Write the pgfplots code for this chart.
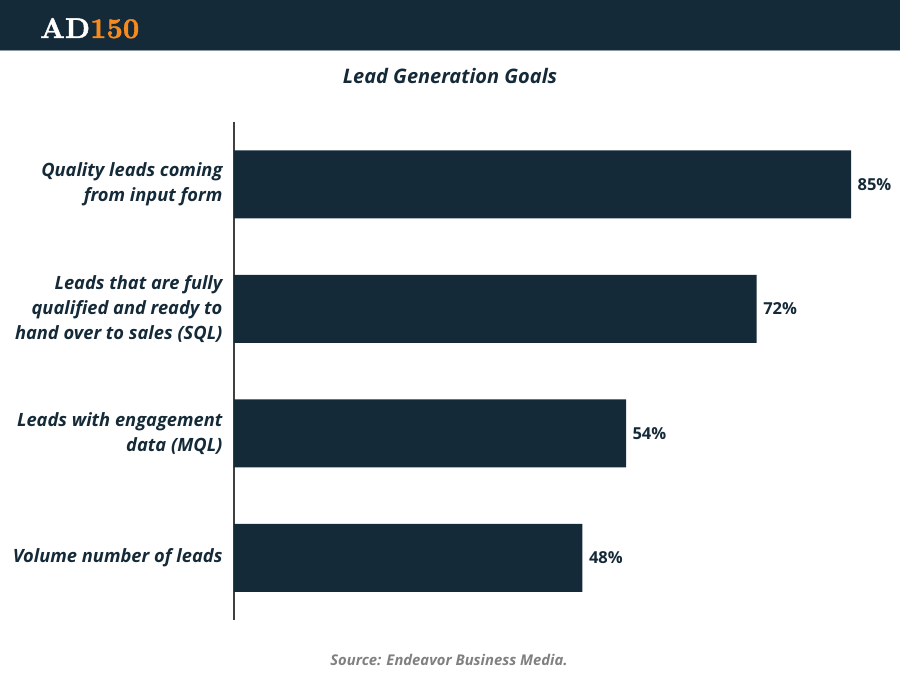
\documentclass[border=0pt]{standalone}
\usepackage{pgfplots}
\pgfplotsset{compat=1.18}
\usepackage{fontspec}
\setmainfont{Open Sans}
\newfontfamily\logofont[FakeBold=1.5]{lmroman10-bold.otf}
\definecolor{navy}{HTML}{152A38}
\definecolor{logoorange}{HTML}{F58A20}
\definecolor{srcgray}{HTML}{808080}
\definecolor{hline}{HTML}{8A9AA2}
\begin{document}
\begin{tikzpicture}[x=1pt,y=1pt]
\path[use as bounding box] (0,0) rectangle (900,675);
\fill[navy] (0,625) rectangle (900,675);
\fill[hline] (0,623.5) rectangle (900,625);
\node[anchor=base west, inner sep=0, text=white, font=\logofont\fontsize{28.5}{28}\selectfont] at (40,637) {AD\textcolor{logoorange}{150}};
\node[text=navy, font=\bfseries\itshape\fontsize{20}{24}\selectfont] at (450,599) {Lead Generation Goals};
\node[text=srcgray, font=\bfseries\itshape\fontsize{14.8}{18}\selectfont] at (449,15) {Source: Endeavor Business Media.};
\begin{axis}[
  at={(234pt,55pt)}, anchor=south west,
  width=653.4pt, height=498pt, scale only axis,
  xbar, xmin=0, xmax=90, ymin=-0.5, ymax=3.5, y dir=reverse,
  bar width=68pt,
  axis x line=none, axis y line*=left,
  axis line style={draw=black!75, line width=1.1pt},
  ytick={0,1,2,3},
  yticklabels={{Quality leads coming\\from input form},{Leads that are fully\\qualified and ready to\\hand over to sales (SQL)},{Leads with engagement\\data (MQL)},{Volume number of leads}},
  major tick length=0,
  /pgf/number format/assume math mode=true,
  yticklabel style={align=right, text=navy, font=\bfseries\itshape\fontsize{18.3}{25}\selectfont, xshift=-8pt},
  nodes near coords={\pgfmathprintnumber{\pgfplotspointmeta}\%},
  nodes near coords style={text=navy, font=\bfseries\fontsize{16.5}{20}\selectfont, xshift=3pt},
]
\addplot[fill=navy, draw=none] coordinates {(85,0) (72,1) (54,2) (48,3)};
\end{axis}
\end{tikzpicture}
\end{document}
